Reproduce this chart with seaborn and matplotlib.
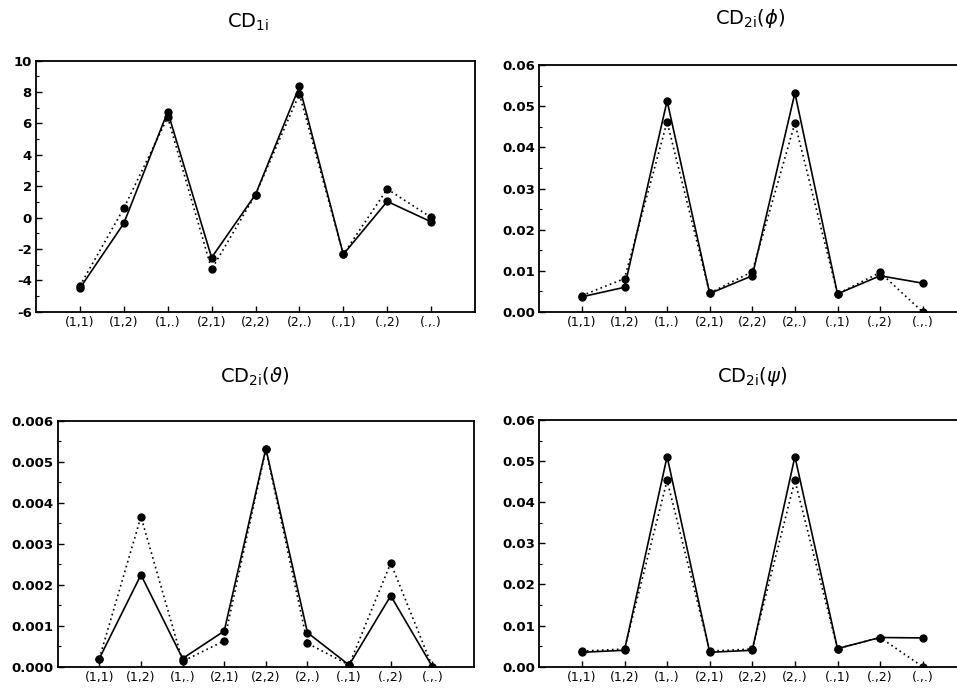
import numpy as np
import pandas as pd
import matplotlib
matplotlib.use("Agg")
import matplotlib.pyplot as plt
import seaborn as sns

sns.set_style("ticks")
plt.rcParams['font.family'] = ['DejaVu Sans']
plt.rcParams['text.color'] = 'black'
plt.rcParams['xtick.color'] = 'black'
plt.rcParams['ytick.color'] = 'black'
plt.rcParams['axes.edgecolor'] = 'black'

categories = ["(1,1)", "(1,2)", "(1,.)", "(2,1)", "(2,2)", "(2,.)", "(.,1)", "(.,2)", "(.,.)"]

cd1_solid = [-4.5, -0.37, 6.75, -2.55, 1.47, 8.36, -2.35, 1.03, -0.27]
cd1_dotted = [-4.35, 0.59, 6.39, -3.3, 1.47, 7.88, -2.35, 1.82, 0.01]

phi_solid = [0.0037, 0.0060, 0.0513, 0.0045, 0.0088, 0.0532, 0.0044, 0.0088, 0.0070]
phi_dotted = [0.0040, 0.0081, 0.0462, 0.0046, 0.0098, 0.0459, 0.0044, 0.0096, 0.0000]

theta_solid = [0.00020, 0.00224, 0.00020, 0.00087, 0.00532, 0.00083, 0.00004, 0.00173, 0.00000]
theta_dotted = [0.00020, 0.00366, 0.00013, 0.00063, 0.00530, 0.00057, 0.00004, 0.00253, 0.00000]

psi_solid = [0.0035, 0.0040, 0.0511, 0.0035, 0.0040, 0.0511, 0.0044, 0.0071, 0.0070]
psi_dotted = [0.0038, 0.0043, 0.0453, 0.0038, 0.0043, 0.0453, 0.0044, 0.0071, 0.0000]

titles = ["CD$_{\\mathrm{1i}}$", "CD$_{\\mathrm{2i}}$($\\phi$)",
          "CD$_{\\mathrm{2i}}$($\\vartheta$)", "CD$_{\\mathrm{2i}}$($\\psi$)"]

panels = [
    (cd1_solid, cd1_dotted, (-6, 10), np.arange(-6, 11, 2), 1, "{:.0f}"),
    (phi_solid, phi_dotted, (0, 0.06), np.arange(0, 0.0601, 0.01), 0.005, "{:.2f}"),
    (theta_solid, theta_dotted, (0, 0.006), np.arange(0, 0.00601, 0.001), 0.0005, "{:.3f}"),
    (psi_solid, psi_dotted, (0, 0.06), np.arange(0, 0.0601, 0.01), 0.005, "{:.2f}"),
]

W, H = 957, 691
# axes rectangles in pixels: left, top, right, bottom
rects = [
    (36, 60.7, 475, 311.7),
    (539.3, 65, 965.3, 312),
    (57.7, 420.7, 474, 666.7),
    (539.3, 420, 965.3, 666.7),
]
title_pos = [(248, 22), (750, 18), (255, 377), (752, 377)]

fig = plt.figure(figsize=(W / 100, H / 100), dpi=100)

for i, (sol, dot, ylim, yt, minor, fmt) in enumerate(panels):
    l, t, r, b = rects[i]
    ax = fig.add_axes([l / W, 1 - b / H, (r - l) / W, (b - t) / H])
    x = np.arange(len(categories))
    df = pd.DataFrame({"x": np.concatenate([x, x]),
                       "y": np.concatenate([sol, dot]),
                       "s": ["solid"] * len(x) + ["dotted"] * len(x)})
    sns.lineplot(data=df, x="x", y="y", style="s", style_order=["solid", "dotted"],
                 dashes={"solid": "", "dotted": (1, 2)}, color="black",
                 marker="o", markersize=6, markeredgewidth=0, linewidth=1.2,
                 legend=False, ax=ax)
    ax.set_xlim(-1, 9)
    ax.set_ylim(*ylim)
    ax.set_xticks(x)
    ax.set_xticklabels(categories, fontsize=9)
    ax.set_yticks(yt)
    ax.set_yticklabels([fmt.format(v) for v in yt], fontsize=9.5, fontweight="bold")
    ax.set_yticks(np.arange(ylim[0] + minor, ylim[1], minor * 2), minor=True)
    ax.tick_params(axis="both", which="major", direction="in", length=4, width=1, pad=3)
    ax.tick_params(axis="y", which="minor", direction="in", length=2.5, width=0.8)
    ax.set_xlabel("")
    ax.set_ylabel("")
    for sp in ax.spines.values():
        sp.set_linewidth(1.3)
        sp.set_color("black")
    fig.text(title_pos[i][0] / W, 1 - title_pos[i][1] / H, titles[i],
             ha="center", va="center", fontsize=14, color="black")

fig.savefig("out.png", dpi=100)
